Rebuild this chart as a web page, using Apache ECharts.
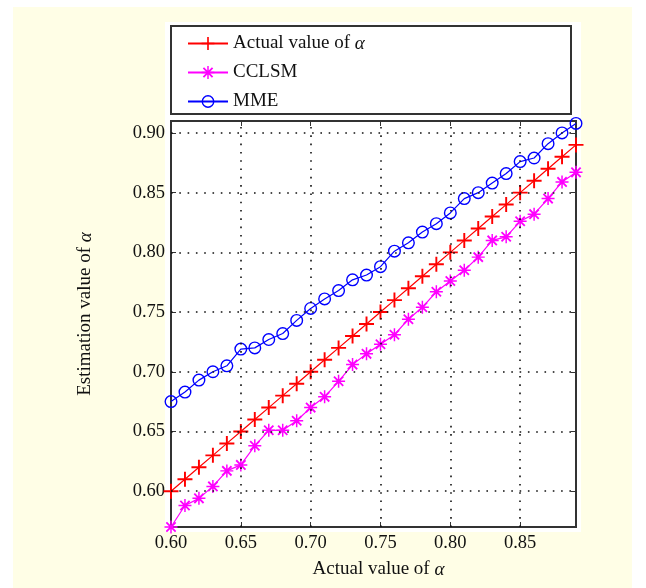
<!DOCTYPE html>
<html>
<head>
<meta charset="utf-8">
<title>Estimation value of alpha</title>
<script src="https://cdn.jsdelivr.net/npm/echarts@6/dist/echarts.min.js"></script>
<style>
    html, body { margin: 0; padding: 0; background: #ffffff; }
    #chart { width: 646px; height: 588px; }
</style>
</head>
<body>
<div id="chart"></div>
<script>
// Actual alpha on the x axis
const alphaValues = [0.60, 0.61, 0.62, 0.63, 0.64, 0.65, 0.66, 0.67, 0.68, 0.69,
                     0.70, 0.71, 0.72, 0.73, 0.74, 0.75, 0.76, 0.77, 0.78, 0.79,
                     0.80, 0.81, 0.82, 0.83, 0.84, 0.85, 0.86, 0.87, 0.88, 0.89];

// Estimated values
const actualSeries = [0.60, 0.61, 0.62, 0.63, 0.64, 0.65, 0.66, 0.67, 0.68, 0.69,
                      0.70, 0.71, 0.72, 0.73, 0.74, 0.75, 0.76, 0.77, 0.78, 0.79,
                      0.80, 0.81, 0.82, 0.83, 0.84, 0.85, 0.86, 0.87, 0.88, 0.89];
const cclsmSeries = [0.570, 0.588, 0.594, 0.604, 0.617, 0.622, 0.638, 0.651, 0.651, 0.659,
                     0.670, 0.679, 0.692, 0.706, 0.715, 0.723, 0.731, 0.744, 0.754, 0.767,
                     0.776, 0.785, 0.796, 0.810, 0.813, 0.826, 0.832, 0.845, 0.859, 0.867];
const mmeSeries = [0.675, 0.683, 0.693, 0.700, 0.705, 0.719, 0.720, 0.727, 0.732, 0.743,
                   0.753, 0.761, 0.768, 0.777, 0.781, 0.788, 0.801, 0.808, 0.817, 0.824,
                   0.833, 0.845, 0.850, 0.858, 0.866, 0.876, 0.879, 0.891, 0.900, 0.908];

const seriesNames = ['Actual value of α', 'CCLSM', 'MME'];
const xTicks = [0.60, 0.65, 0.70, 0.75, 0.80, 0.85];
const yTicks = [0.60, 0.65, 0.70, 0.75, 0.80, 0.85, 0.90];

// MATLAB style markers
const plusMarker = 'path://M6.1,0H7.9V14H6.1Z M0,6.1H14V7.9H0Z';
const starMarker = 'path://M6.2,0H7.8V14H6.2Z M0,6.2H14V7.8H0Z ' +
    'M1.3,2.7L2.7,1.3L12.7,11.3L11.3,12.7Z M11.3,1.3L12.7,2.7L2.7,12.7L1.3,11.3Z';
const ringMarker = 'path://M0,7A7,7 0 1,0 14,7A7,7 0 1,0 0,7Z M1.5,7A5.5,5.5 0 1,1 12.5,7A5.5,5.5 0 1,1 1.5,7Z';

const serif = '"Liberation Serif", "Times New Roman", serif';

function pairs(values) {
    return alphaValues.map((x, i) => [x, values[i]]);
}

const chart = echarts.init(document.getElementById('chart'));

const tickAxis = (extra) => Object.assign({
    type: 'value',
    axisLine: { show: false },
    splitLine: { show: false }
}, extra);

const option = {
    animation: false,
    backgroundColor: '#ffffff',
    textStyle: { fontFamily: serif },
    graphic: [
        { type: 'rect', z: -20, silent: true, shape: { x: 13, y: 7, width: 619, height: 581 },
          style: { fill: '#fffee6' } },
        { type: 'rect', z: -19, silent: true, shape: { x: 165, y: 22, width: 416, height: 510 },
          style: { fill: '#ffffff' } },
        { type: 'rect', z: 1, silent: true, shape: { x: 171, y: 26, width: 400, height: 88 },
          style: { fill: '#ffffff', stroke: '#333', lineWidth: 2 } }
    ],
    legend: {
        data: seriesNames,
        orient: 'vertical',
        left: 182,
        top: 29,
        z: 5,
        itemWidth: 40,
        itemHeight: 16,
        itemGap: 10,
        formatter: name => name.replace('α', '{i|α}'),
        textStyle: {
            fontFamily: serif, fontSize: 19, color: '#111', lineHeight: 16,
            rich: { i: { fontFamily: serif, fontStyle: 'italic', fontSize: 19, color: '#111', lineHeight: 16 } }
        }
    },
    grid: {
        left: 171, top: 121, width: 405, height: 406,
        show: true, borderColor: '#333', borderWidth: 2, backgroundColor: 'transparent'
    },
    xAxis: [
        tickAxis({
            min: 0.60, max: 0.89, position: 'bottom',
            name: 'Actual value of {i|α}', nameLocation: 'middle', nameGap: 33,
            nameTextStyle: {
                fontFamily: serif, fontSize: 19, color: '#111', padding: [0, 0, 0, 10],
                rich: { i: { fontFamily: serif, fontStyle: 'italic', fontSize: 19, color: '#111' } }
            },
            axisTick: { show: true, inside: true, length: 5, customValues: xTicks,
                        lineStyle: { color: '#333', width: 1 } },
            axisLabel: { customValues: xTicks, formatter: v => v.toFixed(2), margin: 7,
                         fontFamily: serif, fontSize: 18.5, color: '#111' }
        }),
        tickAxis({
            min: 0.60, max: 0.89, position: 'top',
            axisTick: { show: true, inside: true, length: 5, customValues: xTicks,
                        lineStyle: { color: '#333', width: 1 } },
            axisLabel: { show: false }
        })
    ],
    yAxis: [
        tickAxis({
            min: 0.57, max: 0.91, position: 'left',
            name: 'Estimation value of {i|α}', nameLocation: 'middle', nameGap: 76,
            nameTextStyle: {
                fontFamily: serif, fontSize: 19, color: '#111', padding: [0, 0, 0, 20],
                rich: { i: { fontFamily: serif, fontStyle: 'italic', fontSize: 19, color: '#111' } }
            },
            axisTick: { show: true, inside: true, length: 5, customValues: yTicks,
                        lineStyle: { color: '#333', width: 1 } },
            axisLabel: { customValues: yTicks, formatter: v => v.toFixed(2), margin: 6,
                         fontFamily: serif, fontSize: 18.5, color: '#111' }
        }),
        tickAxis({
            min: 0.57, max: 0.91, position: 'right',
            axisTick: { show: true, inside: true, length: 5, customValues: yTicks,
                        lineStyle: { color: '#333', width: 1 } },
            axisLabel: { show: false }
        })
    ],
    series: [
        {
            // dotted grid lines
            name: 'grid',
            type: 'line',
            data: [],
            silent: true,
            z: 1,
            markLine: {
                silent: true,
                symbol: 'none',
                label: { show: false },
                emphasis: { disabled: true },
                lineStyle: { color: '#111', width: 1.6, type: [1.6, 6.7] },
                data: yTicks.map(v => ({ yAxis: v })).concat(xTicks.slice(1).map(v => ({ xAxis: v })))
            }
        },
        {
            name: seriesNames[0],
            type: 'line',
            z: 3,
            data: pairs(actualSeries),
            symbol: plusMarker,
            symbolSize: 15,
            symbolKeepAspect: true,
            lineStyle: { color: '#ff0000', width: 1.2 },
            itemStyle: { color: '#ff0000' }
        },
        {
            name: seriesNames[1],
            type: 'line',
            z: 3,
            data: pairs(cclsmSeries),
            symbol: starMarker,
            symbolSize: 13,
            symbolKeepAspect: true,
            lineStyle: { color: '#ff00ff', width: 1.2 },
            itemStyle: { color: '#ff00ff' }
        },
        {
            name: seriesNames[2],
            type: 'line',
            z: 3,
            data: pairs(mmeSeries),
            symbol: ringMarker,
            symbolSize: 13,
            symbolKeepAspect: true,
            lineStyle: { color: '#0000ff', width: 1.2 },
            itemStyle: { color: '#0000ff' }
        }
    ]
};

chart.setOption(option);
</script>
</body>
</html>
